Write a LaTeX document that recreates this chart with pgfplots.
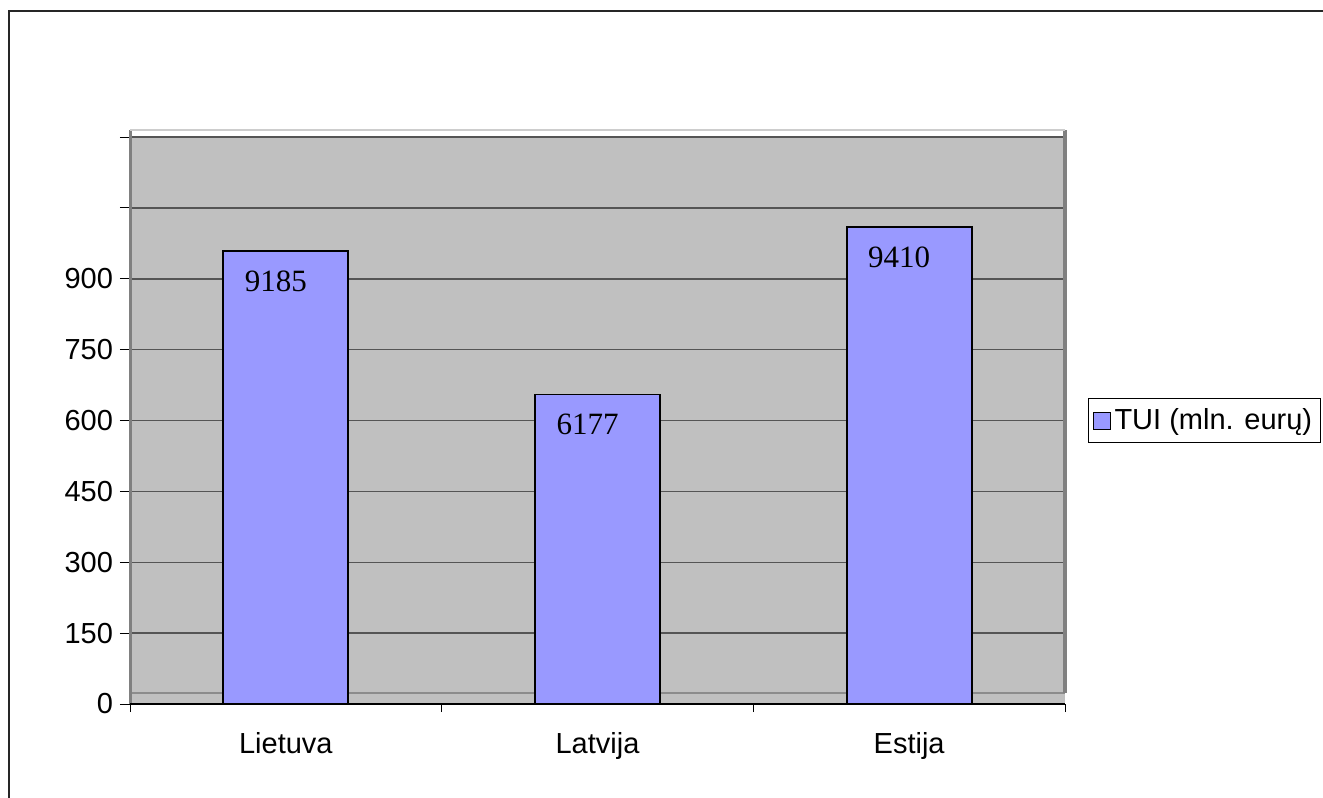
\documentclass[border=0pt]{standalone}
\usepackage{fontspec}
\setmainfont{Liberation Sans}
\newfontfamily\serifnum{Liberation Serif}
\usepackage{pgfplots}
\pgfplotsset{compat=1.18}
\definecolor{wallgray}{HTML}{C0C0C0}
\definecolor{barblue}{HTML}{9999FF}
\definecolor{gridgray}{HTML}{555555}
\definecolor{edgegray}{HTML}{808080}
\definecolor{floorgray}{HTML}{8C8C8C}

\begin{document}
\begin{tikzpicture}
\begin{axis}[
    at={(65pt,-352pt)}, anchor=south west,
    scale only axis,
    width=467.5pt, height=283.5pt,
    xmin=-0.5, xmax=2.5, ymin=0, ymax=1200,
    clip=false,
    axis background/.style={fill=wallgray},
    axis line style={draw=none},
    font=\fontsize{14.5}{17}\selectfont,
    /pgf/number format/assume math mode=true,
    xtick={0,1,2},
    xticklabels={Lietuva,Latvija,Estija},
    xtick pos=bottom,
    every major x tick/.append style={draw=none},
    minor xtick={-0.5,0.5,1.5,2.5},
    minor tick length=4pt,
    every minor x tick/.append style={black, line width=0.5pt},
    xticklabel style={yshift=-5.5pt},
    ytick={0,150,...,1200},
    yticklabels={0,150,300,450,600,750,900,,},
    ytick pos=left,
    tick align=outside,
    major tick length=5pt,
    every major y tick/.append style={black, line width=0.5pt},
    ymajorgrids,
    major grid style={gridgray, line width=0.75pt},
    legend style={at={(1.0246,0.5)}, anchor=west, draw=black, line width=0.5pt,
        inner xsep=2pt, inner ysep=3pt, font=\fontsize{14.5}{17}\selectfont},
    legend cell align=left,
    legend image code/.code={
        \draw[fill=barblue, draw=black, line width=0.5pt] (0pt,-4.25pt) rectangle (8.5pt,4.25pt);
    },
]

% floor line of the back wall
\addplot[forget plot, floorgray, line width=0.7pt] coordinates {(-0.5,23) (2.5,23)};

\addplot[ybar, bar width=62.5pt, fill=barblue, draw=black, line width=0.9pt,
    point meta=explicit symbolic,
    nodes near coords,
    nodes near coords style={anchor=center, yshift=-15pt, xshift=-5pt,
        font=\serifnum\fontsize{15.5}{17}\selectfont, text=black}]
coordinates {(0,958)[9185] (1,655)[6177] (2,1009)[9410]};
\addlegendentry{TUI (mln. eurų)}

% walls and base
\draw[edgegray, line width=1.5pt] (axis cs:-0.5,0) -- (axis cs:-0.5,1215);
\draw[edgegray, line width=1.8pt] (axis cs:2.5,23) -- (axis cs:2.5,1215);
\draw[wallgray!80, line width=0.8pt] (axis cs:-0.5,1215) -- (axis cs:2.5,1215);
\draw[black, line width=0.6pt] (axis cs:-0.5,0) -- (axis cs:2.5,0);
\end{axis}

\draw[black!85, line width=1pt] (4.5pt,-5.5pt) rectangle (700pt,-450pt);
\pgfresetboundingbox
\useasboundingbox (0,0) rectangle (661.5pt,-399pt);
\end{tikzpicture}
\end{document}
